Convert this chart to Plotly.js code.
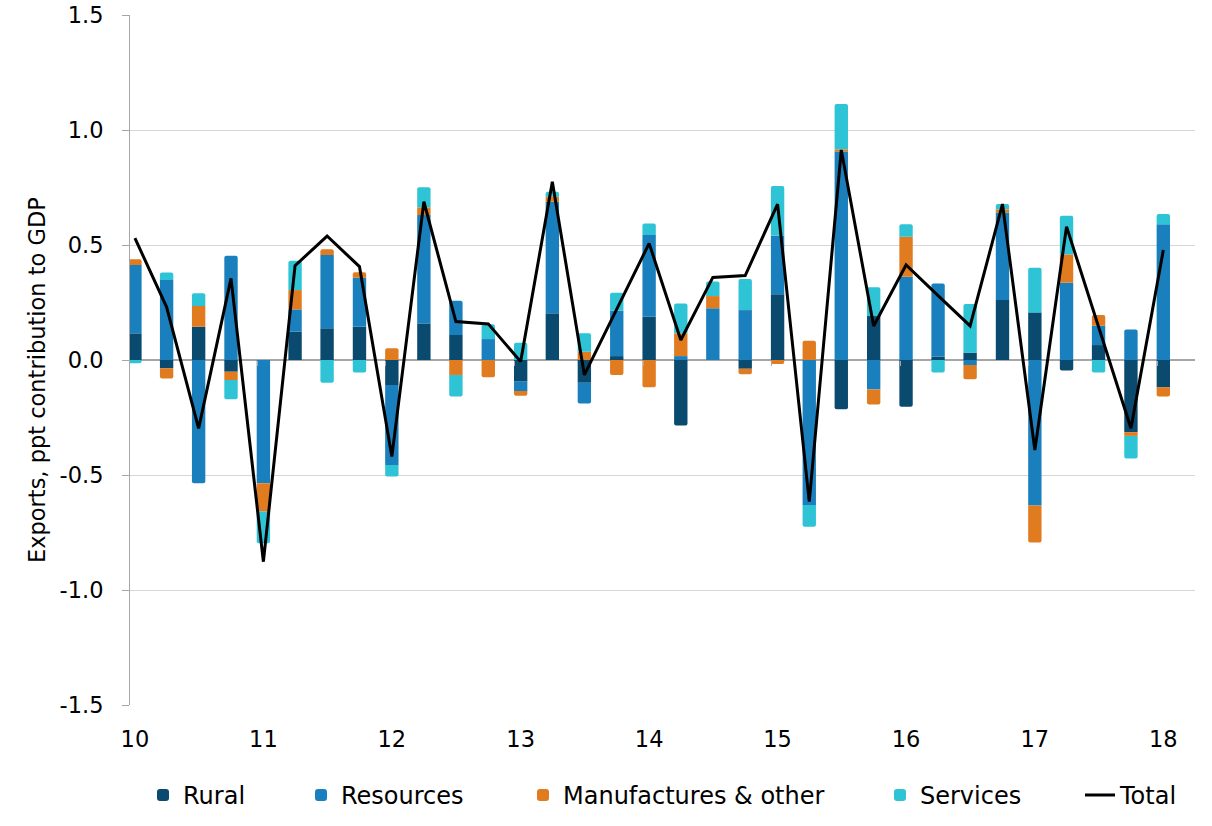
<!DOCTYPE html>
<html>
<head>
<meta charset="utf-8">
<script src="https://cdn.plot.ly/plotly-3.0.1.min.js"></script>
<style>
  html, body { margin: 0; padding: 0; background: #fff; }
  #chart { width: 1212px; height: 826px; }
</style>
</head>
<body>
<div id="chart"></div>
<script>
// Quarters 2010 Q1 .. 2018 Q1
const quarters = [
  '2010-01-01','2010-04-01','2010-07-01','2010-10-01',
  '2011-01-01','2011-04-01','2011-07-01','2011-10-01',
  '2012-01-01','2012-04-01','2012-07-01','2012-10-01',
  '2013-01-01','2013-04-01','2013-07-01','2013-10-01',
  '2014-01-01','2014-04-01','2014-07-01','2014-10-01',
  '2015-01-01','2015-04-01','2015-07-01','2015-10-01',
  '2016-01-01','2016-04-01','2016-07-01','2016-10-01',
  '2017-01-01','2017-04-01','2017-07-01','2017-10-01',
  '2018-01-01'
];

const rural = [
  0.116, -0.036, 0.145, -0.051,
  0.000, 0.123, 0.138, 0.145,
  -0.109, 0.159, 0.109, 0.000,
  -0.094, 0.203, -0.099, 0.017,
  0.188, -0.285, 0.000, -0.038,
  0.286, 0.000, -0.214, 0.191,
  -0.203, 0.014, 0.032, 0.261,
  0.207, -0.046, 0.065, -0.314,
  -0.119
];

const resources = [
  0.297, 0.348, -0.536, 0.453,
  -0.536, 0.097, 0.319, 0.213,
  -0.348, 0.471, 0.149, 0.091,
  -0.041, 0.485, -0.090, 0.197,
  0.355, 0.017, 0.225, 0.217,
  0.255, -0.630, 0.906, -0.128,
  0.362, 0.319, -0.022, 0.380,
  -0.633, 0.336, 0.084, 0.133,
  0.590
];

const manufactures = [
  0.025, -0.044, 0.090, -0.036,
  -0.123, 0.084, 0.024, 0.023,
  0.051, 0.034, -0.065, -0.075,
  -0.020, 0.022, 0.036, -0.065,
  -0.119, 0.099, 0.053, -0.024,
  -0.017, 0.084, 0.010, -0.065,
  0.174, 0.000, -0.062, 0.014,
  -0.161, 0.123, 0.047, -0.016,
  -0.040
];

const services = [
  -0.014, 0.032, 0.055, -0.084,
  -0.138, 0.128, -0.099, -0.054,
  -0.050, 0.087, -0.094, 0.064,
  0.075, 0.022, 0.080, 0.078,
  0.051, 0.130, 0.063, 0.135,
  0.216, -0.095, 0.197, 0.125,
  0.054, -0.054, 0.211, 0.023,
  0.194, 0.168, -0.054, -0.098,
  0.045
];

const total = [
  0.53, 0.23, -0.297, 0.355,
  -0.877, 0.41, 0.539, 0.406,
  -0.42, 0.688, 0.167, 0.157,
  -0.007, 0.775, -0.065, 0.22,
  0.507, 0.087, 0.359, 0.367,
  0.678, -0.616, 0.913, 0.148,
  0.413, 0.28, 0.148, 0.678,
  -0.391, 0.58, 0.14, -0.297,
  0.478
];

const yTicks = [-1.5, -1.0, -0.5, 0.0, 0.5, 1.0, 1.5];
const yTickText = ['-1.5', '-1.0', '-0.5', '0.0', '0.5', '1.0', '1.5'];
const yTitle = 'Exports, ppt contribution to GDP';

const FONT = 'DejaVu Sans, Verdana, sans-serif';
const DAY = 86400000;
const barWidth = 38 * DAY;

function barTrace(name, values, color, legendId) {
  return {
    type: 'bar',
    name: name,
    x: quarters,
    y: values,
    width: barWidth,
    marker: { color: color, line: { width: 0 } },
    legend: legendId
  };
}

const data = [
  barTrace('Rural', rural, '#0B4A6F', 'legend'),
  barTrace('Resources', resources, '#1A80BD', 'legend2'),
  barTrace('Manufactures & other', manufactures, '#E07B20', 'legend3'),
  barTrace('Services', services, '#2FC4D5', 'legend4'),
  {
    type: 'scatter',
    mode: 'lines',
    name: 'Total',
    x: quarters,
    y: total,
    line: { color: '#000000', width: 3 },
    legend: 'legend5'
  },
  // invisible helper trace so the second x axis draws the small year ticks on the zero line
  {
    type: 'scatter',
    mode: 'lines',
    x: quarters,
    y: total,
    xaxis: 'x2',
    line: { width: 0 },
    opacity: 0,
    showlegend: false,
    hoverinfo: 'skip'
  }
];

function legendAt(px) {
  return {
    orientation: 'h',
    x: (px - 130) / 1065,
    xanchor: 'left',
    y: -0.131,
    yanchor: 'middle',
    font: { family: FONT, size: 24, color: '#000000' },
    itemwidth: 30,
    bgcolor: 'rgba(0,0,0,0)'
  };
}

const layout = {
  width: 1212,
  height: 826,
  margin: { l: 130, r: 17, t: 15, b: 121, autoexpand: false },
  paper_bgcolor: '#ffffff',
  plot_bgcolor: '#ffffff',
  font: { family: FONT, size: 22, color: '#000000' },
  barmode: 'relative',
  barcornerradius: 2,
  showlegend: true,
  legend: legendAt(143),
  legend2: legendAt(301),
  legend3: legendAt(523),
  legend4: legendAt(880),
  legend5: legendAt(1080),
  xaxis: {
    type: 'date',
    range: ['2009-12-18', '2018-04-01'],
    tick0: '2010-01-01',
    dtick: 'M12',
    tickformat: '%y',
    showgrid: false,
    zeroline: false,
    showline: false,
    ticks: '',
    ticklabelstandoff: 18,
    tickfont: { family: FONT, size: 22.5, color: '#000000' },
    automargin: false,
    fixedrange: true
  },
  xaxis2: {
    type: 'date',
    overlaying: 'x',
    matches: 'x',
    anchor: 'free',
    position: 0.5,
    side: 'bottom',
    tick0: '2009-12-15',
    dtick: 'M12',
    ticks: 'outside',
    ticklen: 5,
    tickwidth: 1,
    tickcolor: '#a6a6a6',
    showticklabels: false,
    showgrid: false,
    zeroline: false,
    showline: false,
    automargin: false,
    fixedrange: true
  },
  yaxis: {
    range: [-1.5, 1.5],
    tickvals: yTicks,
    ticktext: yTickText,
    showgrid: true,
    gridcolor: '#d6d6d6',
    gridwidth: 1,
    zeroline: true,
    zerolinecolor: '#a6a6a6',
    zerolinewidth: 1.5,
    showline: true,
    linecolor: '#a6a6a6',
    linewidth: 1,
    ticks: 'outside',
    ticklen: 7,
    tickcolor: '#a6a6a6',
    ticklabelstandoff: 14,
    tickfont: { family: FONT, size: 22.5, color: '#000000' },
    automargin: false,
    fixedrange: true
  },
  annotations: [{
    text: yTitle,
    xref: 'paper',
    yref: 'paper',
    x: 0,
    xanchor: 'center',
    xshift: -93,
    y: (705 - 380) / 690,
    yanchor: 'middle',
    textangle: -90,
    showarrow: false,
    font: { family: FONT, size: 22.5, color: '#000000' }
  }]
};

Plotly.newPlot('chart', data, layout, { displayModeBar: false, staticPlot: true });
</script>
</body>
</html>
